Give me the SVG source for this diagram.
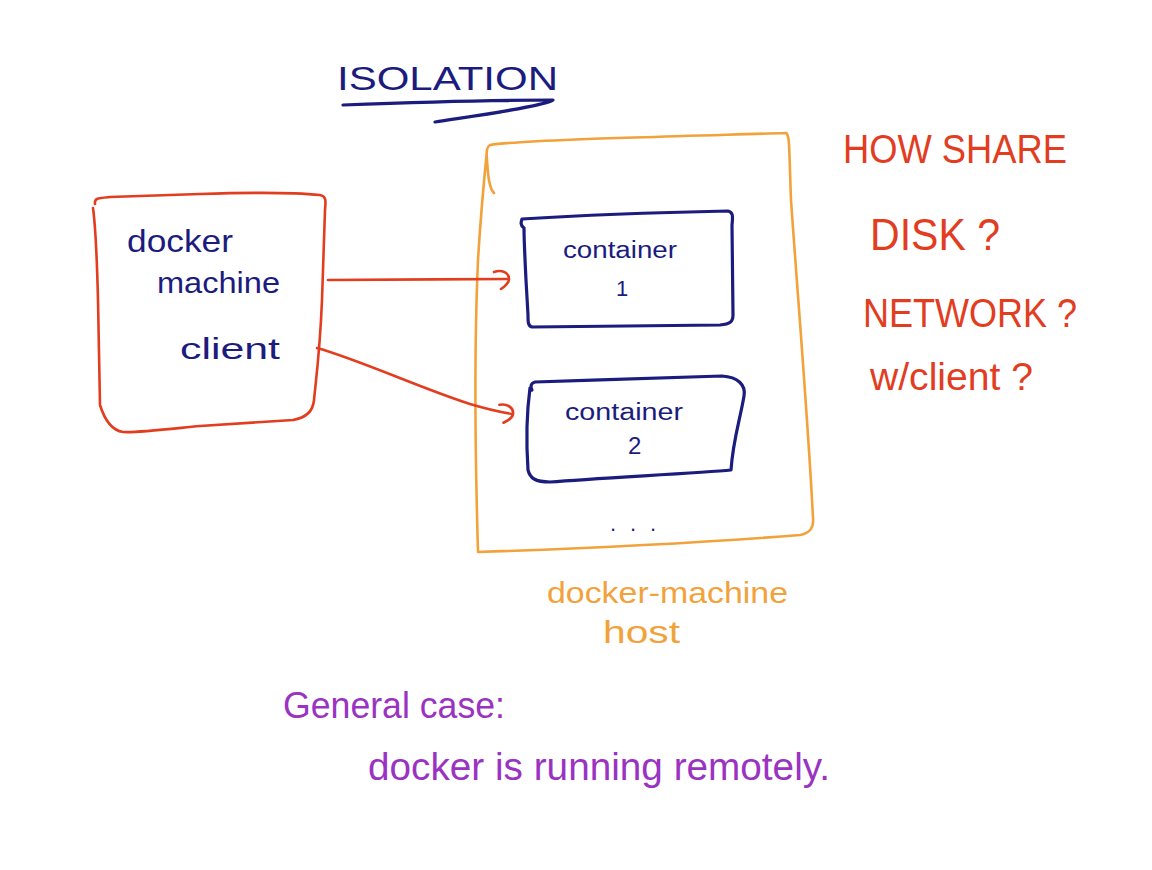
<svg xmlns="http://www.w3.org/2000/svg" width="1152" height="870" viewBox="0 0 1152 870">
<defs>
<style>
.navy{fill:none;stroke:#1b1c7e;stroke-width:3.2;stroke-linecap:round;stroke-linejoin:round}
.red{fill:none;stroke:#e23d1f;stroke-width:2.6;stroke-linecap:round;stroke-linejoin:round}
.orange{fill:none;stroke:#f2a23a;stroke-width:2.6;stroke-linecap:round;stroke-linejoin:round}
text{font-family:"Liberation Sans","DejaVu Sans",sans-serif}
.tn{fill:#1b1c7e}
.tr{fill:#e23d1f}
.to{fill:#f2a23a}
.tp{fill:#9a33c2}
</style>
<marker id="hook" viewBox="-20 -15 30 30" markerWidth="30" markerHeight="30" markerUnits="userSpaceOnUse" refX="0" refY="0" orient="auto" overflow="visible">
<path d="M-14,-7 C-6,-10 1,-6 1,0 C1,4 -4,8 -7,10" fill="none" stroke="#e23d1f" stroke-width="2.6" stroke-linecap="round"/>
</marker>
</defs>
<rect width="1152" height="870" fill="#ffffff"/>

<g id="title">
<text class="tn" x="337" y="90" font-size="34" textLength="221" lengthAdjust="spacingAndGlyphs">ISOLATION</text>
<path class="navy" d="M343,105 C420,102 500,100 553,100 C545,106 480,115 435,122"/>
</g>

<g id="client">
<path class="red" d="M95,204 C94,198 99,198 110,197 L200,194 C260,192 300,193 320,195 C326,196 326,200 325,210 L322,300 C320,350 316,380 314,400 C313,412 305,418 293,420 L200,426 C160,430 135,433 123,432 C110,430 104,418 100,405 L98,300 C97,260 96,230 93,208"/>
<text class="tn" x="127" y="252" font-size="32" textLength="106" lengthAdjust="spacingAndGlyphs">docker</text>
<text class="tn" x="157" y="293" font-size="30" textLength="123" lengthAdjust="spacingAndGlyphs">machine</text>
<text class="tn" x="180" y="359" font-size="30" textLength="100" lengthAdjust="spacingAndGlyphs">client</text>
</g>

<g id="host">
<path class="orange" d="M494,193 C489,188 488,175 487,160 C486,150 487,147 490,145 C520,140 650,137 786,133 C790,135 789,150 791,200 C798,300 808,420 813,518 C814,528 810,533 800,535 C700,543 600,548 478,552 C475,450 474,350 478,260 C481,210 485,170 487,150"/>
<text class="tn" x="610" y="531" font-size="22" textLength="46" lengthAdjust="spacing">. . .</text>
<text class="to" x="547" y="603" font-size="29" textLength="241" lengthAdjust="spacingAndGlyphs">docker-machine</text>
<text class="to" x="603" y="643" font-size="32" textLength="77" lengthAdjust="spacingAndGlyphs">host</text>
</g>

<g id="container1">
<path class="navy" d="M524,228 C520,225 521,222 522,219 C600,214 680,212 728,211 C733,212 733,216 732,225 L733,315 C733,322 730,324 720,325 C650,326 580,327 532,327 C528,326 528,322 528,315 L526,280 C525,260 524,240 524,228"/>
<text class="tn" x="563" y="258" font-size="23" textLength="114" lengthAdjust="spacingAndGlyphs">container</text>
<text class="tn" x="616" y="296" font-size="22">1</text>
</g>

<g id="container2">
<path class="navy" d="M532,390 C530,386 531,383 535,382 C600,380 680,377 722,376 C738,377 746,385 744,396 C740,420 733,440 731,470 C700,473 600,478 550,482 C535,482 530,478 528,470 C526,440 527,410 530,388"/>
<text class="tn" x="565" y="420" font-size="23" textLength="118" lengthAdjust="spacingAndGlyphs">container</text>
<text class="tn" x="628" y="454" font-size="24">2</text>
</g>

<g id="connectors">
<path class="red" d="M328,280 C380,280 450,279 508,279" marker-end="url(#hook)"/>
<path class="red" d="M317,348 C360,360 420,388 470,404 C490,410 500,412 512,414" marker-end="url(#hook)"/>
</g>

<g id="questions">
<text class="tr" x="843" y="163" font-size="40" textLength="224" lengthAdjust="spacingAndGlyphs">HOW SHARE</text>
<text class="tr" x="870" y="250" font-size="44" textLength="130" lengthAdjust="spacingAndGlyphs">DISK ?</text>
<text class="tr" x="863" y="327" font-size="40" textLength="214" lengthAdjust="spacingAndGlyphs">NETWORK ?</text>
<text class="tr" x="870" y="390" font-size="38" textLength="163" lengthAdjust="spacingAndGlyphs">w/client ?</text>
</g>

<g id="note">
<text class="tp" x="283" y="718" font-size="36" textLength="222" lengthAdjust="spacingAndGlyphs">General case:</text>
<text class="tp" x="368" y="780" font-size="38" textLength="462" lengthAdjust="spacingAndGlyphs">docker is running remotely.</text>
</g>
</svg>
